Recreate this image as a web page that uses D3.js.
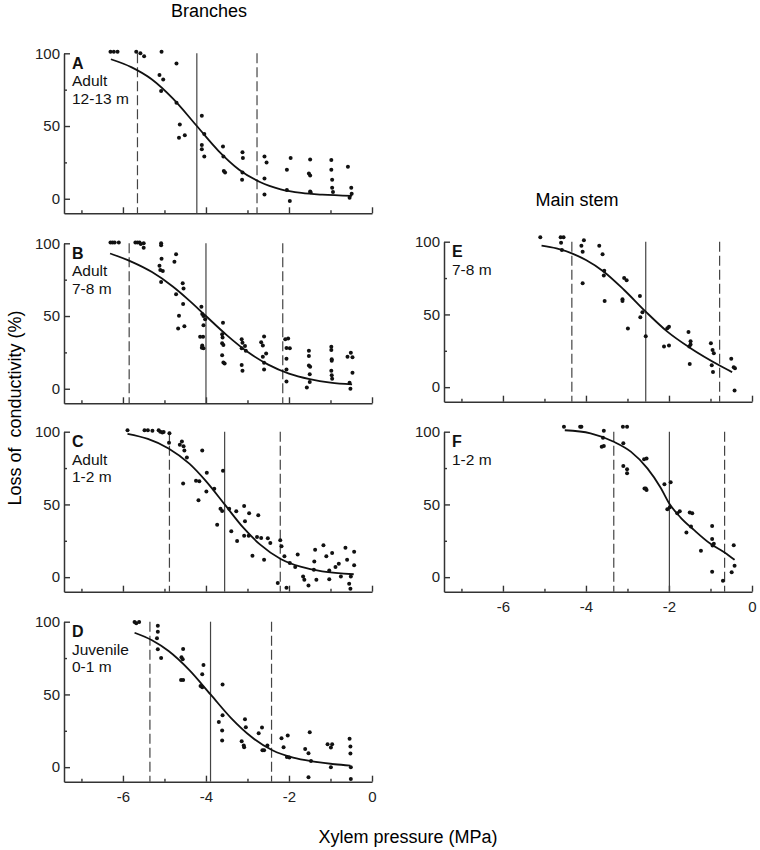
<!DOCTYPE html>
<html>
<head>
<meta charset="utf-8">
<script src="https://cdn.jsdelivr.net/npm/d3@7"></script>
<style>
  body { margin: 0; background: #fff; }
  text { font-family: Arial, "Liberation Sans", sans-serif; }
</style>
</head>
<body>
<div id="chart"></div>
<script>

// axis ticks
var xMajor = [-6, -4, -2, 0];
var xMinor = [-7, -5, -3, -1];
var yMajor = [0, 50, 100];
var yMinor = [25, 75];

// [xylem pressure (MPa), loss of conductivity (%)]
var aPts = [[-6.30,101],[-6.22,101],[-6.13,101],[-5.68,101],[-5.58,100],[-5.49,98],
  [-5.07,101],[-4.71,93],[-5.12,85],[-5.03,82],[-5.08,74],[-4.71,66],
  [-4.63,51],[-4.65,42],[-4.51,43.6],[-4.10,57],[-4.10,37],[-4.10,34],[-4.04,29],[-4.04,44.5],
  [-3.59,36],[-3.58,29],[-3.57,19],[-3.54,18],[-3.12,32],[-3.11,28],[-3.12,18],[-3.13,13],
  [-2.59,29],[-2.54,25],[-2.59,14],[-2.59,3],[-2.05,20],[-1.96,28],[-2.05,6],[-1.98,-1.6],
  [-1.49,27],[-1.52,17.4],[-1.49,16],[-1.49,5],[-1.48,4.4],
  [-0.98,26.6],[-0.98,20],[-0.96,13],[-0.96,7.6],[-0.94,4.6],
  [-0.58,22],[-0.50,7.6],[-0.49,3.4],[-0.54,0.7]];
var aFit = [[-6.29,95.9],[-5.8,90.5],[-5.3,82],[-4.8,69],[-4.22,50],[-3.7,33],[-3.2,20],
  [-2.7,11.5],[-2.2,6.5],[-1.7,4],[-1.2,2.8],[-0.48,2]];
var aP50 = -4.22;
var aDash = [-5.65, -2.77];

var bPts = [[-6.30,100.5],[-6.25,100.5],[-6.20,100.5],[-6.10,100.5],
  [-5.70,100.5],[-5.65,100.5],[-5.60,100.5],[-5.57,99.5],[-5.50,100],[-5.50,97],
  [-5.08,100],[-5.08,98.6],[-5.07,89.4],[-5.12,84.6],[-5.10,81.6],[-5.04,81],[-5.08,73.4],
  [-4.72,92.4],[-4.76,87.4],[-4.56,72.5],[-4.54,69],[-4.72,65],[-4.55,58.3],[-4.65,50.2],[-4.67,41.5],[-4.52,43],
  [-4.11,56.4],[-4.09,51.4],[-4.06,50],[-4.02,47.7],[-4.06,43.6],[-4.14,35.8],[-4.07,35.8],[-4.09,29.8],[-4.06,27.8],[-4.10,28.2],
  [-3.59,45.4],[-3.61,37.4],[-3.60,35.3],[-3.61,31.2],[-3.58,30],[-3.61,23],[-3.58,18],[-3.55,17.4],
  [-3.14,34],[-3.12,31.7],[-3.06,29.4],[-3.14,27.8],[-3.04,26.1],[-3.14,16.3],[-3.12,12.4],
  [-2.67,32],[-2.60,36],[-2.63,29.8],[-2.55,24.3],[-2.63,22],[-2.60,17.9],[-2.60,13.3],
  [-2.09,34],[-2.02,34.6],[-2.06,28],[-1.98,27.8],[-2.06,20.6],[-2.06,13.3],[-2.06,5],
  [-1.52,26.1],[-1.52,22.5],[-1.52,16],[-1.49,15.1],[-1.50,10],[-1.50,4.6],[-1.57,0.9],
  [-0.98,28.9],[-0.98,26.6],[-0.97,20.2],[-0.97,19.3],[-0.98,12.4],[-0.97,9.2],[-0.96,6.9],
  [-0.59,22],[-0.51,24.8],[-0.47,21.6],[-0.47,11],[-0.54,4.1],[-0.52,0]];
var bFit = [[-6.31,93],[-5.8,87.4],[-5.3,80.2],[-4.8,70.3],[-4.4,60.6],[-4.0,50],[-3.5,36.9],
  [-3.0,25.4],[-2.5,16.6],[-2.0,10.4],[-1.5,6.6],[-1.0,4.2],[-0.48,3]];
var bP50 = -4.0;
var bDash = [-5.85, -2.15];

var cPts = [[-5.89,101],[-5.48,101],[-5.40,101],[-5.29,100.7],[-5.14,101],[-5.10,100],[-5.05,99.5],
  [-5.02,99.8],[-4.88,98.9],[-4.89,92.4],[-4.63,91],[-4.58,93.3],[-4.54,90],[-4.52,87],[-4.46,82.3],[-4.55,64.4],
  [-4.09,87],[-3.98,71.7],[-3.99,58.9],[-4.18,52.9],[-4.24,66.2],[-4.16,66],[-3.80,60.7],
  [-3.59,73.1],[-3.65,47.1],[-3.61,45.5],[-3.73,36.1],
  [-3.44,47.1],[-3.27,45.3],[-3.39,31.5],[-3.25,24.8],[-3.08,49],[-3.06,38.4],[-3.08,28.5],[-2.97,28.5],
  [-2.96,43.9],[-2.74,42.5],[-2.88,14.7],[-2.77,27.6],[-2.67,26.9],[-2.60,12],[-2.51,26.7],[-2.45,23.4],
  [-2.21,25.3],[-2.18,21.2],[-2.27,-4.1],[-2.11,14.3],[-2.06,-7.3],[-1.98,9.7],[-1.85,6.9],[-1.79,15.6],
  [-1.66,0.5],[-1.63,-1.8],[-1.53,-5.7],[-1.39,10.8],[-1.37,18.9],[-1.40,5.1],[-1.34,-1.8],
  [-1.17,21.9],[-1.10,14.3],[-1.03,4.6],[-1.03,-1.4],[-0.96,16.6],[-0.88,6.9],[-0.80,9.2],[-0.75,0.5],
  [-0.64,20.3],[-0.60,12],[-0.51,0.5],[-0.55,-4.6],[-0.52,-8],[-0.43,17.5],[-0.43,8.1]];
var cFit = [[-5.89,98.5],[-5.4,95],[-4.9,88.5],[-4.4,78],[-4.0,66],[-3.55,50],[-3.1,34],
  [-2.7,22.5],[-2.2,12.5],[-1.7,7],[-1.2,4],[-0.44,2]];
var cP50 = -3.55;
var cDash = [-4.88, -2.21];

var dPts = [[-5.72,99.8],[-5.68,98.9],[-5.61,99.8],
  [-5.16,97.3],[-5.16,93.1],[-5.18,88.6],[-5.16,81],[-5.08,75.1],
  [-4.55,81.2],[-4.59,75.5],[-4.56,74.1],[-4.60,60],[-4.55,60],
  [-4.06,70.3],[-4.09,63.8],[-4.13,55.8],[-4.09,54.9],
  [-3.60,56.8],[-3.60,35.7],[-3.69,31.1],[-3.61,25.2],[-3.61,18.3],
  [-3.06,33],[-3.04,27.5],[-3.14,17.8],[-3.09,14.9],[-3.08,13.7],
  [-2.73,23.3],[-2.65,27.2],[-2.64,11.7],[-2.60,11.7],[-2.52,14.9],
  [-2.18,19.9],[-2.13,13.7],[-2.03,21.7],[-2.05,6.9],[-1.99,6.6],
  [-1.61,12.4],[-1.53,9.6],[-1.50,24],[-1.47,4.3],[-1.53,-6.9],
  [-1.07,15.8],[-0.99,13.5],[-0.96,15.8],[-0.99,0],
  [-0.54,19.5],[-0.52,14.2],[-0.52,9.4],[-0.51,0],[-0.51,-8.2]];
var dFit = [[-5.72,92.4],[-5.3,87.2],[-4.9,79.8],[-4.4,66.7],[-3.89,50],[-3.4,33.9],[-2.9,20.7],
  [-2.4,11.6],[-1.9,6.5],[-1.4,3.8],[-0.9,2],[-0.52,1.1]];
var dP50 = -3.89;
var dDash = [-5.35, -2.42];

var ePts = [[-5.10,103],[-4.61,103],[-4.54,103],[-4.60,99.3],[-4.58,94.3],
  [-4.11,97.3],[-4.05,101],[-4.08,93.1],[-4.08,71.4],
  [-3.68,97.3],[-3.60,91.3],[-3.56,80.1],[-3.57,76.7],[-3.55,59.3],
  [-3.08,75],[-3.02,73.5],[-3.12,60.4],[-3.12,59.3],[-2.99,40.3],
  [-2.70,62.7],[-2.69,48.1],[-2.64,51.5],[-2.56,35],
  [-2.12,27.9],[-2.04,40.5],[-2.00,41.6],[-2.00,28.6],
  [-1.53,38],[-1.48,31.6],[-1.48,29.3],[-1.51,27.9],[-1.50,16],
  [-0.99,30.2],[-0.95,25.6],[-0.92,23.3],[-0.97,15.1],[-0.94,10.5],
  [-0.50,19.5],[-0.44,13.7],[-0.41,13],[-0.42,-2.3]];
var eFit = [[-5.07,97.3],[-4.71,95.4],[-4.34,92],[-4.0,87.4],[-3.57,79.4],[-3.08,66.8],[-2.56,51.9],
  [-2.04,38.2],[-1.48,26.8],[-0.78,14.9],[-0.48,10.3]];
var eP50 = -2.56;
var eDash = [-4.34, -0.78];

var fPts = [[-4.53,103.4],[-4.14,103.4],[-4.11,103.4],
  [-3.57,100.7],[-3.59,95.9],[-3.62,89.7],[-3.57,90.2],
  [-3.11,103.4],[-3.01,103.4],[-3.10,92],[-3.10,76.4],[-3.01,71.4],[-3.01,74.1],
  [-2.60,81],[-2.54,81.5],[-2.59,60.9],[-2.54,60],[-2.56,60.9],
  [-2.11,63.8],[-1.96,65.2],[-2.04,46.7],[-1.98,48.1],
  [-1.80,43.9],[-1.74,45.3],[-1.58,30.7],[-1.50,44.4],[-1.44,43.9],[-1.47,34.8],
  [-1.23,18.1],[-0.96,35.2],[-0.96,26.3],[-0.95,21.7],[-0.92,22.9],[-0.96,3.7],
  [-0.70,-2.5],[-0.44,22],[-0.42,7.8],[-0.49,3.4]];
var fFit = [[-4.51,101],[-3.89,98.9],[-3.33,93.1],[-2.92,86.3],[-2.52,74.8],[-2.20,61.5],[-1.99,50.5],
  [-1.72,41],[-1.40,32.5],[-1.00,22.9],[-0.66,16.9],[-0.42,11.9]];
var fP50 = -1.99;
var fDash = [-3.33, -0.66];

var w = 760;
var h = 850;
var pw = 308;   // plot width
var ph = 160;   // plot height

var svg = d3.select("#chart")
            .append("svg")
            .attr("width", w)
            .attr("height", h);

var panels = [
  {id: "A", txt: ["Adult", "12-13 m"], pts: aPts, fit: aFit, p50: aP50, dash: aDash, left: 64, top: 53.3, lab: false},
  {id: "B", txt: ["Adult", "7-8 m"], pts: bPts, fit: bFit, p50: bP50, dash: bDash, left: 64, top: 243.3, lab: false},
  {id: "C", txt: ["Adult", "1-2 m"], pts: cPts, fit: cFit, p50: cP50, dash: cDash, left: 64, top: 431.7, lab: false},
  {id: "D", txt: ["Juvenile", "0-1 m"], pts: dPts, fit: dFit, p50: dP50, dash: dDash, left: 64, top: 621.7, lab: true},
  {id: "E", txt: ["7-8 m"], pts: ePts, fit: eFit, p50: eP50, dash: eDash, left: 444, top: 241.7, lab: false},
  {id: "F", txt: ["1-2 m"], pts: fPts, fit: fFit, p50: fP50, dash: fDash, left: 444, top: 431.7, lab: true}
];

var axisColor = "#333";

panels.forEach(function(p) {

  var xScale = d3.scaleLinear()
                 .domain([-7.42, 0])
                 .range([p.left, p.left + pw]);
  var yScale = d3.scaleLinear()
                 .domain([-10, 100])
                 .range([p.top + ph, p.top]);

  var g = svg.append("g");

  // x axis, ticks point inward
  var xAxis = d3.axisBottom(xScale)
                .tickValues(xMajor)
                .tickSizeInner(-6)
                .tickSizeOuter(0)
                .tickPadding(10)
                .tickFormat(p.lab ? function(d) { return String(d); } : "");
  var gx = g.append("g")
            .attr("transform", "translate(0," + (p.top + ph) + ")")
            .call(xAxis);
  g.append("g")
   .attr("transform", "translate(0," + (p.top + ph) + ")")
   .call(d3.axisBottom(xScale).tickValues(xMinor).tickSizeInner(-3).tickSizeOuter(0).tickFormat(""))
   .select(".domain").remove();

  var yAxis = d3.axisLeft(yScale)
                .tickValues(yMajor)
                .tickSizeInner(-6)
                .tickSizeOuter(0)
                .tickPadding(4);
  var gy = g.append("g")
            .attr("transform", "translate(" + p.left + ",0)")
            .call(yAxis);
  g.append("g")
   .attr("transform", "translate(" + p.left + ",0)")
   .call(d3.axisLeft(yScale).tickValues(yMinor).tickSizeInner(-3).tickSizeOuter(0).tickFormat(""))
   .select(".domain").remove();

  g.selectAll(".domain").attr("stroke", axisColor).attr("stroke-width", 1.5);
  g.selectAll(".tick line").attr("stroke", axisColor).attr("stroke-width", 1.4);
  g.selectAll(".tick text")
   .attr("font-family", "Arial, 'Liberation Sans', sans-serif")
   .attr("font-size", 15)
   .attr("fill", "#222");

  // P50 and dashed lines
  g.append("line")
   .attr("x1", xScale(p.p50)).attr("x2", xScale(p.p50))
   .attr("y1", yScale(100)).attr("y2", yScale(-10))
   .attr("stroke", "#444").attr("stroke-width", 1.2);
  g.selectAll(".dash")
   .data(p.dash)
   .enter()
   .append("line")
   .attr("x1", function(d) { return xScale(d); })
   .attr("x2", function(d) { return xScale(d); })
   .attr("y1", yScale(100)).attr("y2", yScale(-10))
   .attr("stroke", "#444").attr("stroke-width", 1.2)
   .attr("stroke-dasharray", "10,4");

  // fitted curve
  var line = d3.line()
               .x(function(d) { return xScale(d[0]); })
               .y(function(d) { return yScale(d[1]); })
               .curve(d3.curveMonotoneX);
  g.append("path")
   .datum(p.fit)
   .attr("d", line)
   .attr("fill", "none")
   .attr("stroke", "#111")
   .attr("stroke-width", 1.8);

  // measured points
  g.selectAll("circle")
   .data(p.pts)
   .enter()
   .append("circle")
   .attr("cx", function(d) { return xScale(d[0]); })
   .attr("cy", function(d) { return yScale(d[1]); })
   .attr("r", 2)
   .attr("fill", "#111");

  // panel label
  g.append("text")
   .attr("x", p.left + 8)
   .attr("y", p.top + 15.5)
   .attr("font-size", 16)
   .attr("font-weight", "bold")
   .attr("fill", "#111")
   .text(p.id);
  p.txt.forEach(function(t, i) {
    g.append("text")
     .attr("x", p.left + 8)
     .attr("y", p.top + 33 + i * 17.5)
     .attr("font-size", 15.5)
     .attr("fill", "#111")
     .text(t);
  });
});

// titles
svg.append("text")
   .attr("x", 209).attr("y", 17)
   .attr("text-anchor", "middle")
   .attr("font-size", 18)
   .text("Branches");
svg.append("text")
   .attr("x", 577).attr("y", 206)
   .attr("text-anchor", "middle")
   .attr("font-size", 18)
   .text("Main stem");
svg.append("text")
   .attr("x", 408).attr("y", 843)
   .attr("text-anchor", "middle")
   .attr("font-size", 18)
   .text("Xylem pressure (MPa)");
svg.append("text")
   .attr("transform", "translate(21,408) rotate(-90)")
   .attr("text-anchor", "middle")
   .attr("font-size", 18)
   .attr("xml:space", "preserve")
   .style("white-space", "pre")
   .text("Loss of  conductivity (%)");

</script>
</body>
</html>
